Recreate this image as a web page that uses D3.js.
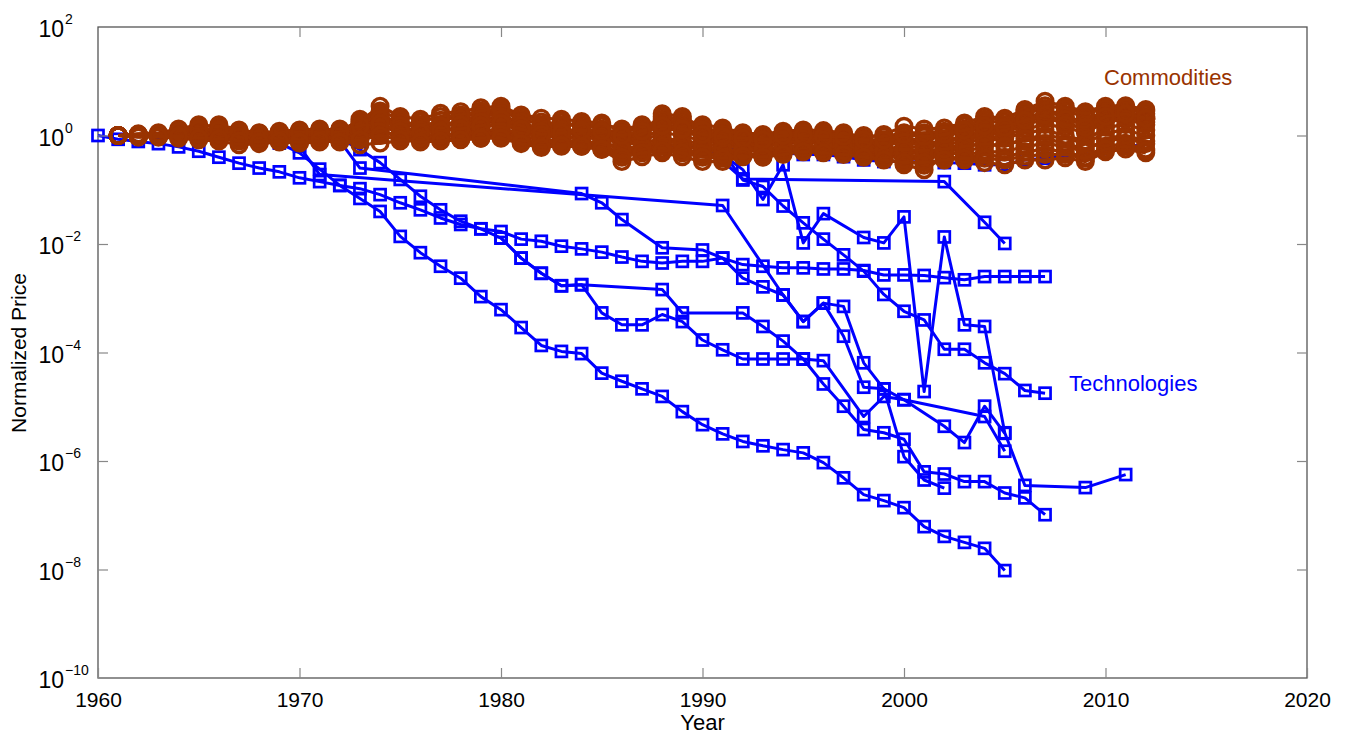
<!DOCTYPE html>
<html>
<head>
<meta charset="utf-8">
<script src="https://cdn.jsdelivr.net/npm/d3@7"></script>
<style>
  body { margin: 0; background: #fff; }
  svg { display: block; font-family: "Liberation Sans", Arial, sans-serif; }
</style>
</head>
<body>
<svg id="chart" width="1355" height="738"></svg>
<script>
// x ticks and y ticks (log axis, every 2 decades)
const xTicks = [1960, 1970, 1980, 1990, 2000, 2010, 2020];
const yTickExps = [2, 0, -2, -4, -6, -8, -10];

// Commodity years (one value per year per series)
const commodityYears = [1961,1962,1963,1964,1965,1966,1967,1968,1969,1970,
  1971,1972,1973,1974,1975,1976,1977,1978,1979,1980,
  1981,1982,1983,1984,1985,1986,1987,1988,1989,1990,
  1991,1992,1993,1994,1995,1996,1997,1998,1999,2000,
  2001,2002,2003,2004,2005,2006,2007,2008,2009,2010,
  2011,2012];

// commodity series, values are log10 of normalized price
const comm01 = [0.00,0.01,0.02,0.04,0.06,0.05,0.03,0.02,0.03,0.05,
  0.08,0.10,0.26,0.54,0.35,0.30,0.41,0.44,0.51,0.54,
  0.38,0.32,0.30,0.26,0.23,0.10,0.20,0.15,0.18,0.20,
  0.14,0.05,0.02,0.08,0.10,0.09,0.05,-0.05,0.02,0.17,
  0.12,0.14,0.23,0.35,0.32,0.48,0.63,0.54,0.44,0.54,
  0.55,0.48];
const comm02 = [0.00,-0.02,-0.03,-0.05,-0.08,-0.10,-0.17,-0.15,-0.12,-0.14,
  -0.12,-0.10,-0.17,-0.14,-0.10,-0.08,-0.05,-0.07,-0.05,-0.02,
  -0.08,-0.20,-0.20,-0.20,-0.26,-0.48,-0.39,-0.32,-0.39,-0.48,
  -0.48,-0.39,-0.39,-0.32,-0.28,-0.30,-0.32,-0.35,-0.40,-0.54,
  -0.63,-0.39,-0.45,-0.50,-0.54,-0.45,-0.45,-0.41,-0.48,-0.30,
  -0.25,-0.32];
const comm03 = [0.00,0.02,0.00,0.05,0.10,0.08,0.02,0.00,-0.02,0.03,
  0.05,0.02,0.10,0.20,0.05,0.08,0.12,0.10,0.15,0.20,
  0.10,0.00,-0.05,-0.02,-0.08,-0.12,-0.10,0.05,0.00,-0.10,
  -0.15,-0.18,-0.20,-0.15,-0.12,-0.15,-0.18,-0.22,-0.25,-0.20,
  -0.22,-0.18,-0.10,0.00,0.05,0.20,0.30,0.25,0.10,0.30,
  0.35,0.25];
const comm04 = [0.00,0.03,0.05,0.12,0.20,0.15,0.05,0.02,0.04,0.08,
  0.02,0.05,0.30,0.40,0.20,0.15,0.28,0.35,0.40,0.45,
  0.30,0.20,0.25,0.15,0.05,0.00,0.05,0.40,0.35,0.15,
  0.05,0.00,-0.05,0.05,0.08,0.05,0.00,-0.08,-0.10,0.00,
  0.00,0.05,0.12,0.25,0.25,0.40,0.50,0.30,0.20,0.45,
  0.50,0.40];
const comm05 = [0.00,-0.01,0.00,0.02,0.04,0.06,0.00,-0.05,-0.06,-0.02,
  -0.04,-0.05,0.05,0.15,0.10,0.02,-0.02,0.05,0.10,0.08,
  0.00,-0.10,-0.08,-0.12,-0.15,-0.20,-0.25,-0.15,-0.20,-0.25,
  -0.30,-0.25,-0.30,-0.20,-0.18,-0.22,-0.25,-0.30,-0.35,-0.40,
  -0.45,-0.35,-0.30,-0.20,-0.15,-0.10,-0.05,-0.15,-0.25,-0.10,
  -0.05,-0.15];
const comm06 = [0.00,0.01,0.02,0.08,0.15,0.20,0.10,0.05,0.08,0.10,
  0.12,0.08,0.20,0.30,0.25,0.20,0.15,0.30,0.35,0.40,
  0.20,0.15,0.18,0.20,0.12,0.05,0.15,0.25,0.20,0.08,
  0.02,-0.05,-0.10,-0.02,0.02,0.00,-0.05,-0.12,-0.15,-0.05,
  -0.10,0.00,0.05,0.15,0.20,0.35,0.40,0.45,0.35,0.40,
  0.45,0.35];
const comm07 = [0.00,-0.01,-0.02,-0.03,-0.02,-0.04,-0.08,-0.10,-0.08,-0.10,
  -0.08,-0.06,0.00,0.10,-0.05,-0.10,-0.08,-0.05,0.00,0.05,
  -0.05,-0.15,-0.12,-0.15,-0.20,-0.35,-0.30,-0.25,-0.30,-0.35,
  -0.38,-0.35,-0.35,-0.28,-0.25,-0.28,-0.30,-0.32,-0.35,-0.45,
  -0.55,-0.42,-0.40,-0.35,-0.40,-0.30,-0.25,-0.30,-0.40,-0.20,
  -0.15,-0.25];
const comm08 = [0.00,0.00,0.01,0.03,0.05,0.10,0.05,0.00,0.02,0.05,
  0.04,0.10,0.15,0.45,0.30,0.12,0.20,0.25,0.30,0.35,
  0.25,0.10,0.12,0.08,0.00,-0.05,0.00,0.30,0.25,0.05,
  -0.05,-0.10,-0.12,-0.05,0.00,-0.05,-0.10,-0.15,-0.20,-0.10,
  -0.15,-0.10,0.00,0.10,0.15,0.30,0.45,0.35,0.25,0.40,
  0.42,0.30];
const comm09 = [0.00,0.02,0.01,0.00,-0.03,-0.02,-0.05,-0.06,-0.03,0.00,
  0.00,-0.03,0.05,0.25,0.00,-0.05,0.00,0.05,0.08,0.12,
  0.05,-0.05,0.05,0.00,-0.05,-0.15,-0.15,-0.05,-0.10,-0.15,
  -0.20,-0.22,-0.25,-0.10,-0.05,-0.10,-0.15,-0.18,-0.25,-0.30,
  -0.35,-0.30,-0.25,-0.10,-0.05,0.05,0.10,0.00,-0.10,0.15,
  0.20,0.10];
const comm10 = [0.00,0.01,0.03,0.06,0.10,0.12,0.08,0.04,0.00,0.02,
  0.00,0.03,0.12,0.35,0.15,0.05,0.10,0.15,0.22,0.28,
  0.15,0.05,0.00,0.05,-0.02,-0.08,-0.05,0.12,0.10,-0.05,
  -0.10,-0.15,-0.18,-0.10,-0.08,-0.12,-0.15,-0.20,-0.30,-0.30,
  -0.30,-0.25,-0.15,-0.05,0.00,0.12,0.20,0.15,0.05,0.25,
  0.30,0.20];
const comm11 = [0.00,-0.02,-0.01,0.01,0.00,0.02,-0.03,-0.08,-0.10,-0.06,
  -0.05,-0.02,0.08,0.05,0.02,-0.02,0.05,0.00,0.02,0.00,
  -0.12,-0.18,-0.15,-0.18,-0.22,-0.30,-0.25,-0.20,-0.25,-0.32,
  -0.35,-0.30,-0.28,-0.25,-0.22,-0.25,-0.28,-0.28,-0.32,-0.35,
  -0.40,-0.32,-0.35,-0.30,-0.30,-0.20,-0.15,-0.20,-0.30,-0.05,
  0.00,-0.10];
const comm12 = [0.00,0.01,0.00,0.04,0.08,0.05,0.00,0.02,0.05,0.08,
  0.10,0.12,0.22,0.25,0.18,0.25,0.35,0.38,0.45,0.50,
  0.35,0.25,0.20,0.22,0.18,0.12,0.10,0.35,0.30,0.10,
  0.10,0.02,0.00,0.03,0.05,0.02,0.02,0.00,-0.02,0.05,
  0.05,0.08,0.18,0.30,0.30,0.45,0.55,0.50,0.40,0.50,
  0.52,0.45];
const comm13 = [0.00,0.00,0.02,0.02,0.03,0.00,-0.04,-0.04,0.00,0.00,
  0.02,0.05,0.15,0.30,0.12,0.10,0.18,0.20,0.25,0.30,
  0.18,0.08,0.10,0.05,0.05,-0.02,0.02,0.20,0.15,0.00,
  -0.05,-0.08,-0.10,-0.08,-0.05,-0.08,-0.10,-0.12,-0.15,-0.12,
  -0.18,-0.12,-0.05,0.05,0.10,0.25,0.35,0.30,0.20,0.35,
  0.38,0.30];
const comm14 = [0.00,-0.01,0.01,0.00,0.02,0.03,-0.02,-0.06,-0.05,-0.08,
  -0.06,-0.08,-0.05,0.08,-0.02,-0.05,0.00,0.00,0.05,0.02,
  -0.10,-0.12,-0.10,-0.10,-0.15,-0.25,-0.20,-0.10,-0.15,-0.20,
  -0.25,-0.28,-0.25,-0.22,-0.18,-0.20,-0.22,-0.25,-0.28,-0.25,
  -0.28,-0.25,-0.20,-0.15,-0.20,-0.05,0.00,-0.05,-0.15,0.05,
  0.10,0.00];
const comm15 = [0.00,0.02,0.03,0.08,0.12,0.10,0.04,0.03,0.06,0.06,
  0.06,0.06,0.18,0.22,0.08,0.05,0.08,0.12,0.18,0.22,
  0.12,0.02,0.05,0.10,0.08,0.00,0.08,0.18,0.12,0.02,
  -0.02,-0.05,-0.08,0.00,0.00,-0.02,-0.02,-0.08,-0.08,0.02,
  -0.02,0.02,0.10,0.18,0.15,0.28,0.38,0.20,0.15,0.35,
  0.40,0.32];
const comm16 = [0.00,-0.03,-0.02,-0.01,-0.05,-0.06,-0.10,-0.12,-0.10,-0.12,
  -0.10,-0.12,-0.08,0.00,-0.08,-0.12,-0.10,-0.08,-0.05,-0.05,
  -0.15,-0.22,-0.18,-0.20,-0.25,-0.40,-0.32,-0.28,-0.32,-0.40,
  -0.42,-0.38,-0.40,-0.35,-0.30,-0.32,-0.35,-0.40,-0.45,-0.50,
  -0.50,-0.45,-0.42,-0.42,-0.45,-0.38,-0.35,-0.35,-0.42,-0.25,
  -0.20,-0.28];

// technology series: [year, log10 normalized price]
const techF = [[1960,0],[1961,-0.07],[1962,-0.11],[1963,-0.15],[1964,-0.21],[1965,-0.29],[1966,-0.40],
  [1967,-0.51],[1968,-0.60],[1969,-0.67],[1970,-0.78],[1971,-0.85],[1972,-0.92],[1973,-0.98],
  [1974,-1.09],[1975,-1.24],[1976,-1.37],[1977,-1.52],[1978,-1.64],[1979,-1.72],[1980,-1.77],
  [1981,-1.91],[1982,-1.95],[1983,-2.04],[1984,-2.09],[1985,-2.15],[1986,-2.24],[1987,-2.32],
  [1988,-2.35],[1989,-2.32],[1990,-2.32],[1991,-2.26],[1992,-2.38],[1993,-2.41],[1994,-2.44],
  [1995,-2.44],[1996,-2.46],[1997,-2.46],[1998,-2.49],[1999,-2.57],[2000,-2.57],[2001,-2.58],
  [2002,-2.62],[2003,-2.66],[2004,-2.60],[2005,-2.60],[2006,-2.60],[2007,-2.60]];
const techL = [[1968,0],[1969,-0.14],[1970,-0.32],[1971,-0.62],[1972,-0.92],[1973,-1.16],
  [1974,-1.40],[1975,-1.86],[1976,-2.16],[1977,-2.41],[1978,-2.63],[1979,-2.97],[1980,-3.21],
  [1981,-3.54],[1982,-3.87],[1983,-3.98],[1984,-4.02],[1985,-4.38],[1986,-4.53],[1987,-4.67],
  [1988,-4.81],[1989,-5.09],[1990,-5.33],[1991,-5.50],[1992,-5.64],[1993,-5.72],[1994,-5.79],
  [1995,-5.85],[1996,-6.03],[1997,-6.31],[1998,-6.62],[1999,-6.73],[2000,-6.86],[2001,-7.21],
  [2002,-7.39],[2003,-7.50],[2004,-7.61],[2005,-8.02]];
const techT2 = [[1972,-0.05],[1973,-0.26],[1974,-0.50],[1975,-0.81],[1976,-1.12],[1977,-1.37],
  [1978,-1.58],[1979,-1.72],[1980,-1.89],[1981,-2.26],[1982,-2.54],[1983,-2.77],[1984,-2.75],
  [1988,-2.84],[1989,-3.27],[1992,-3.27],[1993,-3.52],[1994,-3.79],[1995,-4.12],[1996,-4.58],
  [1997,-4.99],[1998,-5.42],[1999,-5.48],[2000,-5.60],[2001,-6.20],[2002,-6.24],[2003,-6.38],
  [2004,-6.38],[2005,-6.59],[2006,-6.68],[2007,-6.99]];
const techE = [[1980,-1.89],[1981,-2.26],[1982,-2.54],[1983,-2.77],[1984,-2.75],[1985,-3.27],
  [1986,-3.49],[1987,-3.49],[1988,-3.30],[1989,-3.43],[1990,-3.77],[1991,-3.95],[1992,-4.12],
  [1993,-4.12],[1994,-4.12],[1995,-4.12],[1996,-4.15],[1998,-5.18],[1999,-4.81],[2000,-4.87],
  [2002,-5.36],[2003,-5.66],[2004,-4.99],[2005,-5.49]];
const techG = [[1972,-0.10],[1973,-0.60],[1984,-1.07],[1985,-1.24],[1986,-1.55],[1988,-2.07],
  [1990,-2.11],[1991,-2.26],[1992,-2.63],[1993,-2.79],[1994,-2.94],[1995,-3.43],[1996,-3.09],
  [1997,-3.70],[1998,-4.64],[1999,-4.67],[2000,-4.87],[2004,-5.18],[2005,-5.82]];
const techD = [[1970,-0.20],[1971,-0.72],[1991,-1.29],[1994,-2.94],[1995,-3.43],[1996,-3.09],
  [1997,-3.15],[1998,-4.19],[1999,-4.67],[2000,-5.92],[2001,-6.35],[2002,-6.50]];
const techA = [[1990,-0.15],[1992,-0.80],[2002,-0.85],[2004,-1.60],[2005,-1.99]];
const techB = [[1990,-0.20],[1991,-0.35],[1992,-0.63],[1993,-1.18],[1994,-0.54],[1995,-1.98],
  [1996,-1.44],[1998,-1.88],[1999,-1.98],[2000,-1.50],[2001,-4.72],[2002,-1.87],[2003,-3.49],
  [2004,-3.52],[2005,-5.48],[2006,-6.45],[2009,-6.49],[2011,-6.25]];
const techC = [[1991,-0.30],[1992,-0.82],[1993,-0.94],[1994,-1.30],[1995,-1.61],[1996,-1.91],
  [1997,-2.20],[1998,-2.50],[1999,-2.93],[2000,-3.24],[2001,-3.40],[2002,-3.94],[2003,-3.94],
  [2004,-4.19],[2005,-4.39],[2006,-4.70],[2007,-4.75]];
const techTop = [[1985,0],[1986,-0.10],[1987,-0.15],[1988,-0.20],[1989,-0.20],[1990,-0.22],
  [1991,-0.25],[1992,-0.25],[1993,-0.30],[1994,-0.32],[1995,-0.35],[1996,-0.35],[1997,-0.39],
  [1998,-0.45],[1999,-0.48],[2000,-0.48],[2001,-0.49],[2002,-0.50],[2003,-0.51],[2004,-0.54],
  [2005,-0.54],[2006,-0.45],[2007,-0.42],[2008,-0.38],[2009,-0.34],[2010,-0.29],[2011,-0.23],
  [2012,-0.14]];

const BLUE = "#0000ff";
const BROWN = "#993300";
const FONT = "Liberation Sans, Arial, sans-serif";

const svg = d3.select("#chart");
const plotLeft = 98, plotRight = 1307, plotTop = 27, plotBottom = 678;

const x = d3.scaleLinear().domain([1960, 2020]).range([plotLeft, plotRight]);
const y = d3.scaleLog().domain([1e-10, 1e2]).range([plotBottom, plotTop]);
const yTicks = yTickExps.map(e => Math.pow(10, e));

const plot = svg.append("g");

// frame
plot.append("rect")
  .attr("x", plotLeft).attr("y", plotTop)
  .attr("width", plotRight - plotLeft).attr("height", plotBottom - plotTop)
  .attr("fill", "none").attr("stroke", "#555").attr("stroke-width", 1.3);

// axes with inward ticks on all four sides
function styleAxis(g) {
  g.select(".domain").remove();
  g.selectAll(".tick line").attr("stroke", "#888").attr("stroke-width", 1.2);
}
const inner = -10;
svg.append("g").attr("transform", `translate(0,${plotBottom})`)
  .call(d3.axisBottom(x).tickValues(xTicks).tickSizeInner(inner).tickSizeOuter(0).tickFormat(d => d).tickPadding(14))
  .call(styleAxis)
  .call(g => g.selectAll(".tick text").attr("fill", "#000").attr("font-size", 21)
    .attr("font-family", FONT));
svg.append("g").attr("transform", `translate(0,${plotTop})`)
  .call(d3.axisTop(x).tickValues(xTicks.slice(1, -1)).tickSizeInner(inner).tickSizeOuter(0).tickFormat(""))
  .call(styleAxis);
svg.append("g").attr("transform", `translate(${plotLeft},0)`)
  .call(d3.axisLeft(y).tickValues(yTicks.slice(1, -1)).tickSizeInner(inner).tickSizeOuter(0).tickFormat(""))
  .call(styleAxis);
svg.append("g").attr("transform", `translate(${plotRight},0)`)
  .call(d3.axisRight(y).tickValues(yTicks.slice(1, -1)).tickSizeInner(inner).tickSizeOuter(0).tickFormat(""))
  .call(styleAxis);

// y tick labels as 10^n
const yLab = svg.append("g").attr("font-family", FONT).attr("fill", "#000");
yTickExps.forEach(e => {
  const ty = y(Math.pow(10, e));
  yLab.append("text").attr("x", 64).attr("y", ty + 10).attr("text-anchor", "end")
    .attr("font-size", 23).text("10");
  yLab.append("text").attr("x", 65).attr("y", ty - 3).attr("text-anchor", "start")
    .attr("font-size", 14).text(e < 0 ? "\u2212" + (-e) : String(e));
});

// axis titles
svg.append("text").attr("x", (plotLeft + plotRight) / 2).attr("y", 730)
  .attr("text-anchor", "middle").attr("font-size", 22).attr("font-family", FONT).text("Year");
svg.append("text")
  .attr("transform", `translate(26,353) rotate(-90)`)
  .attr("text-anchor", "middle").attr("font-size", 21).attr("font-family", FONT).text("Normalized Price");

const line = d3.line().x(d => x(d[0])).y(d => y(Math.pow(10, d[1])));

// technologies
const techSeries = [techF, techL, techT2, techE, techG, techD, techA, techB, techC, techTop];
const techLayer = plot.append("g");
techSeries.forEach(s => {
  techLayer.append("path").attr("d", line(s))
    .attr("fill", "none").attr("stroke", BLUE).attr("stroke-width", 3)
    .attr("stroke-linejoin", "round");
});
techSeries.forEach(s => {
  techLayer.selectAll(null).data(s).enter().append("rect")
    .attr("x", d => x(d[0]) - 5.5).attr("y", d => y(Math.pow(10, d[1])) - 5.5)
    .attr("width", 11).attr("height", 11)
    .attr("fill", "none").attr("stroke", BLUE).attr("stroke-width", 2.7);
});

// commodities on top
const commSeries = [comm01, comm02, comm03, comm04, comm05, comm06, comm07, comm08,
  comm09, comm10, comm11, comm12, comm13, comm14, comm15, comm16]
  .map(vals => vals.map((v, i) => [commodityYears[i], v]));
const commLayer = plot.append("g");
commSeries.forEach(s => {
  commLayer.append("path").attr("d", line(s))
    .attr("fill", "none").attr("stroke", BROWN).attr("stroke-width", 3.2);
  commLayer.selectAll(null).data(s).enter().append("circle")
    .attr("cx", d => x(d[0])).attr("cy", d => y(Math.pow(10, d[1])))
    .attr("r", 7.8)
    .attr("fill", "none").attr("stroke", BROWN).attr("stroke-width", 3.4);
});

// series labels
svg.append("text").attr("x", 1104).attr("y", 85).attr("font-size", 22).attr("font-family", FONT)
  .attr("fill", BROWN).text("Commodities");
svg.append("text").attr("x", 1069).attr("y", 391).attr("font-size", 22).attr("font-family", FONT)
  .attr("fill", BLUE).text("Technologies");
</script>
</body>
</html>
